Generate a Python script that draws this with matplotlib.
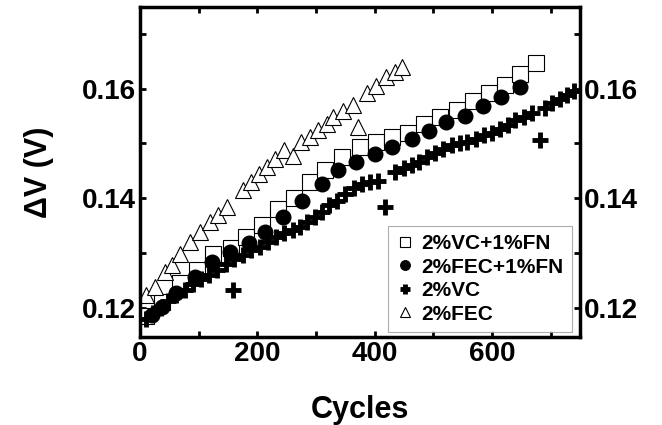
import matplotlib
matplotlib.use("Agg")
import matplotlib.pyplot as plt
from matplotlib.ticker import MultipleLocator, FixedLocator

plt.rcParams['font.family'] = ['Liberation Sans', 'DejaVu Sans']
plt.rcParams['font.weight'] = 'bold'

# 2%VC+1%FN (open squares)
sq_x = [10, 38, 68, 97, 125, 155, 180, 208, 236, 262, 290, 316, 345, 375, 403,
        430, 457, 484, 511, 540, 568, 595, 622, 647, 675]
sq_y = [0.1185, 0.1210, 0.1245, 0.1270, 0.1298, 0.1310, 0.1330, 0.1352, 0.1380,
        0.1400, 0.1430, 0.1452, 0.1475, 0.1493, 0.1502, 0.1511, 0.1520, 0.1535,
        0.1548, 0.1562, 0.1577, 0.1592, 0.1606, 0.1627, 0.1646]

# 2%FEC+1%FN (filled circles)
ci_x = [20, 37, 62, 94, 122, 153, 185, 213, 244, 276, 310, 338, 369, 400, 430,
        463, 493, 522, 554, 585, 616, 647]
ci_y = [0.1187, 0.1202, 0.1227, 0.1257, 0.1284, 0.1302, 0.1318, 0.1339, 0.1365,
        0.1395, 0.1427, 0.1451, 0.1466, 0.1481, 0.1493, 0.1509, 0.1522, 0.1539,
        0.1551, 0.1569, 0.1584, 0.1603]

# 2%VC (plus)
pl_x = [10, 22, 35, 48, 62, 76, 90, 104, 118, 132, 146, 158, 160, 175, 190, 205,
        218, 232, 246, 260, 273, 285, 298, 310, 323, 336, 350, 364, 378, 392, 406,
        418, 435, 450, 463, 476, 490, 503, 517, 531, 545, 558, 572, 586, 600, 613,
        627, 640, 654, 668, 682, 690, 703, 716, 728, 740]
pl_y = [0.1180, 0.1190, 0.1200, 0.1212, 0.1223, 0.1233, 0.1243, 0.1252, 0.1260,
        0.1270, 0.1280, 0.1232, 0.1289, 0.1297, 0.1305, 0.1312, 0.1320, 0.1330,
        0.1337, 0.1342, 0.1348, 0.1357, 0.1366, 0.1375, 0.1387, 0.1396, 0.1408,
        0.1418, 0.1426, 0.1430, 0.1432, 0.1385, 0.1448, 0.1455, 0.1460, 0.1466,
        0.1475, 0.1482, 0.1490, 0.1498, 0.1500, 0.1503, 0.1508, 0.1515, 0.1520,
        0.1526, 0.1533, 0.1542, 0.1549, 0.1556, 0.1506, 0.1565, 0.1573, 0.1581,
        0.1588, 0.1596]

# 2%FEC (open triangles)
tr_x = [11, 26, 43, 54, 68, 85, 102, 119, 133, 148, 176, 190, 202, 217, 230, 245,
        261, 275, 290, 304, 318, 329, 346, 363, 372, 387, 403, 420, 434, 447]
tr_y = [0.1224, 0.1239, 0.1266, 0.1278, 0.1299, 0.1321, 0.1339, 0.1357, 0.1370,
        0.1385, 0.1416, 0.1430, 0.1445, 0.1457, 0.1472, 0.1488, 0.1478, 0.1502,
        0.1511, 0.1524, 0.1535, 0.1548, 0.1560, 0.1570, 0.1530, 0.1593, 0.1605,
        0.1621, 0.1630, 0.1640]

labels = ['2%VC+1%FN', '2%FEC+1%FN', '2%VC', '2%FEC']
x_ticks = [0, 200, 400, 600]
y_ticks = [0.12, 0.14, 0.16]

fig = plt.figure(figsize=(6.62, 4.25), dpi=100)
ax = fig.add_axes([140/662, 1-337/425, 440/662, 330/425])

h_sq, = ax.plot(sq_x, sq_y, linestyle='none', marker='s', markersize=11,
                markerfacecolor='white', markeredgecolor='black', markeredgewidth=0.8)
h_ci, = ax.plot(ci_x, ci_y, linestyle='none', marker='o', markersize=10.5,
                markerfacecolor='black', markeredgecolor='black')
h_pl, = ax.plot(pl_x, pl_y, linestyle='none', marker='+', markersize=11.5,
                markeredgecolor='black', markeredgewidth=3.5)
h_tr, = ax.plot(tr_x, tr_y, linestyle='none', marker='^', markersize=11,
                markerfacecolor='white', markeredgecolor='black', markeredgewidth=0.8)

ax.set_xlim(0, 750)
ax.set_ylim(0.1147, 0.1749)

ax.xaxis.set_major_locator(FixedLocator(x_ticks))
ax.xaxis.set_minor_locator(MultipleLocator(100))
ax.yaxis.set_major_locator(FixedLocator(y_ticks))
ax.yaxis.set_minor_locator(MultipleLocator(0.01))
ax.set_xticklabels([str(v) for v in x_ticks])
ax.set_yticklabels(['%.2f' % v for v in y_ticks])

ax.tick_params(which='both', direction='in', top=True, right=True,
               labelright=True, length=4, width=2)
ax.tick_params(which='major', labelsize=20, pad=3)
for lab in ax.get_xticklabels() + ax.get_yticklabels():
    lab.set_fontweight('bold')
for t in ax.yaxis.get_major_ticks():
    t.label2.set_fontweight('bold')
    t.label2.set_fontsize(20)

for s in ax.spines.values():
    s.set_linewidth(2.5)

ax.set_xlabel('Cycles', fontsize=22, fontweight='bold', labelpad=20)
ax.set_ylabel('ΔV (V)', fontsize=22, fontweight='bold', labelpad=20)

leg = ax.legend([h_sq, h_ci, h_pl, h_tr], labels, loc='lower right',
                bbox_to_anchor=(0.982, 0.015), borderaxespad=0, markerscale=0.65,
                handlelength=0.8, handletextpad=0.4, labelspacing=0.22,
                borderpad=0.4, frameon=True, fancybox=False,
                prop={'weight': 'bold', 'size': 15})
leg.get_frame().set_edgecolor('#999999')
leg.get_frame().set_linewidth(0.8)

fig.savefig('out.png', dpi=100)
